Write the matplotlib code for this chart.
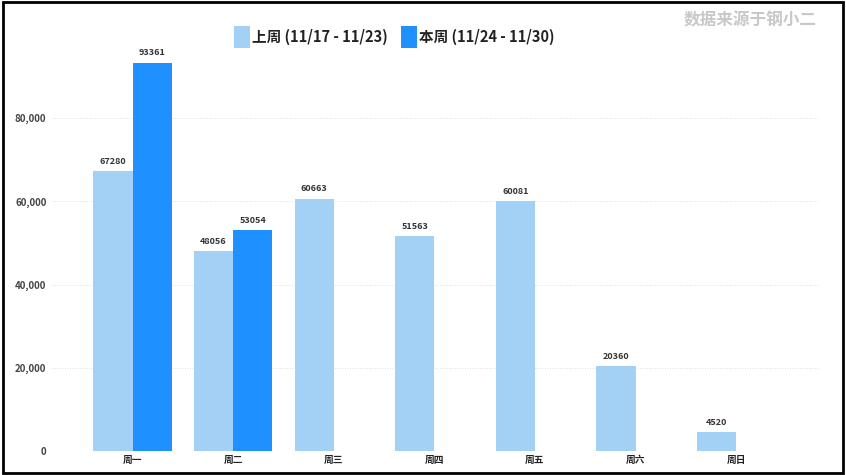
import numpy as np
import matplotlib.pyplot as plt
from matplotlib.patches import Rectangle

plt.rcParams['font.family'] = ['Noto Sans CJK SC', 'DejaVu Sans']

days = ['周一', '周二', '周三', '周四', '周五', '周六', '周日']
last_week = [67280, 48056, 60663, 51563, 60081, 20360, 4520]
this_week = [93361, 53054]
last_label = '上周 (11/17 - 11/23)'
this_label = '本周 (11/24 - 11/30)'
yticks = [0, 20000, 40000, 60000, 80000]

c_last = '#A3D0F5'
c_this = '#1E90FF'

fig = plt.figure(figsize=(8.46, 4.75), dpi=100)
ax = fig.add_axes([0.0615, 0.0505, 0.9075, 0.876])

x = np.arange(len(days))
w = 0.39
b1 = ax.bar(x - w / 2, last_week, width=w, color=c_last, label=last_label)
b2 = ax.bar(x[:len(this_week)] + w / 2, this_week, width=w, color=c_this, label=this_label)

for bars in (b1, b2):
    for r in bars:
        ax.text(r.get_x() + r.get_width() / 2, r.get_height() + 1300, f'{int(r.get_height())}',
                ha='center', va='bottom', fontsize=6.5, fontweight='bold', color='#333333')

ax.set_xlim(-0.8, 6.83)
ax.set_ylim(0, 100000)
ax.set_yticks(yticks)
ax.set_yticklabels([f'{v:,}' for v in yticks])
ax.set_xticks(x)
ax.set_xticklabels(days)
ax.tick_params(axis='y', length=0, labelsize=7, labelcolor='#444444', pad=4)
ax.tick_params(axis='x', length=0, labelsize=7, labelcolor='#222222', pad=3)
for lab in ax.get_xticklabels() + ax.get_yticklabels():
    lab.set_fontweight('bold')
ax.yaxis.grid(True, linestyle=(0, (1, 2)), color='#d5d5d5', linewidth=0.6)
ax.set_axisbelow(True)
for s in ax.spines.values():
    s.set_visible(False)

leg = fig.legend(handles=[b1, b2], loc='center', bbox_to_anchor=(0.466, 0.922), ncol=2,
                 frameon=False, fontsize=10.5, handlelength=1.1, handleheight=1.9,
                 handletextpad=0.15, columnspacing=0.9)
for t in leg.get_texts():
    t.set_fontweight('bold')
    t.set_color('#222222')

fig.text(0.965, 0.957, '数据来源于钢小二', ha='right', va='center', fontsize=12,
         fontweight='bold', color='#c8c8c8')

# outer frame
fig.patches.append(Rectangle((0.003, 0.005), 0.994, 0.99, transform=fig.transFigure,
                             fill=False, edgecolor='black', linewidth=2))

fig.savefig('out.png', dpi=100)
